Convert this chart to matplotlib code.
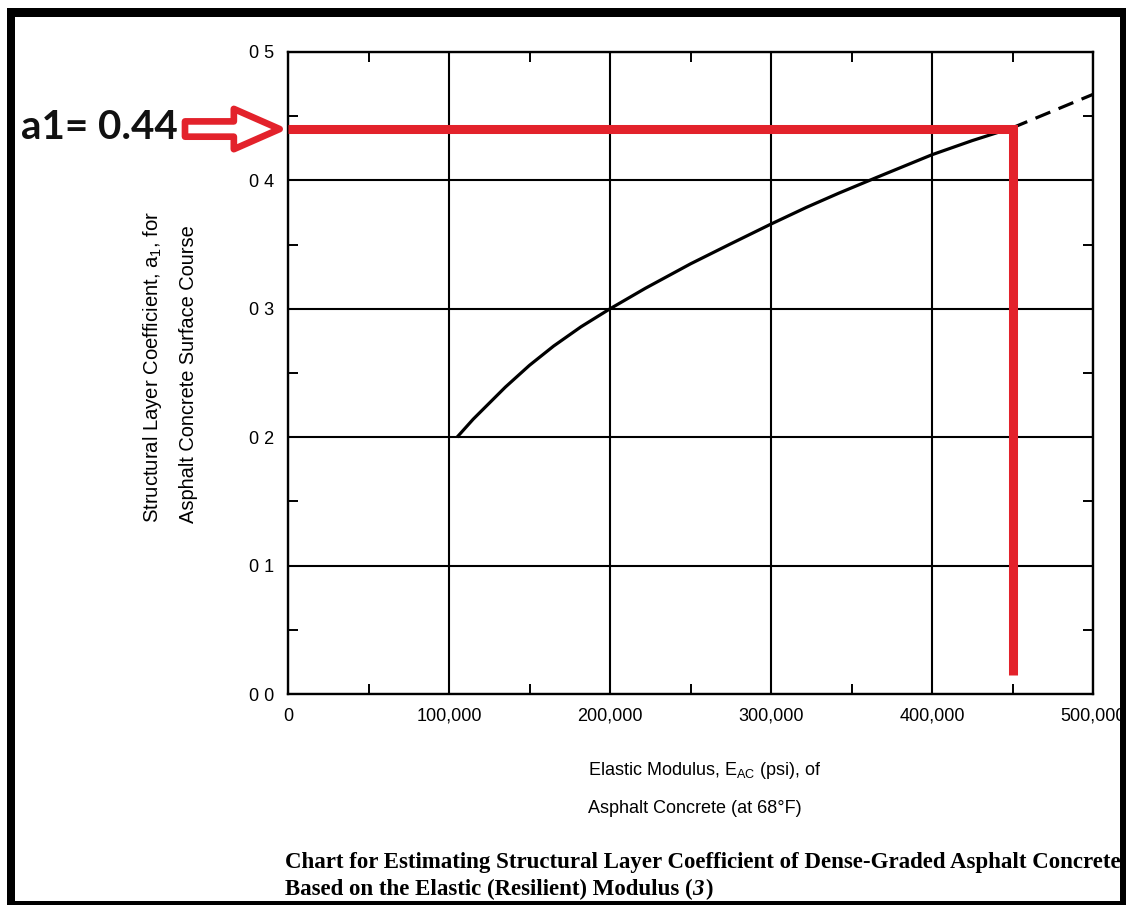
import matplotlib
matplotlib.use('Agg')
import matplotlib.pyplot as plt
from matplotlib.patches import Rectangle

plt.rcParams['font.family'] = ['Liberation Sans', 'DejaVu Sans']
plt.rcParams['mathtext.fontset'] = 'custom'
plt.rcParams['mathtext.rm'] = 'Liberation Sans'
plt.rcParams['mathtext.it'] = 'Liberation Sans:italic'

# Curva a1 - E_AC (tramo firme y extrapolación a trazos)
E_FIRME = [105000, 115000, 135000, 150000, 165000, 182000, 200000, 222000, 250000,
           274000, 300000, 322000, 342000, 365000, 400000, 425000, 450000]
A1_FIRME = [0.200, 0.214, 0.239, 0.256, 0.271, 0.286, 0.300, 0.316, 0.335,
            0.350, 0.366, 0.379, 0.390, 0.402, 0.420, 0.431, 0.441]
E_TRAZOS = [450000, 475000, 500000]
A1_TRAZOS = [0.441, 0.454, 0.467]

# Lectura del ábaco
E_LECTURA = 450000
A1_LECTURA = 0.44
A1_PIE = 0.015

X_TICKS = [0, 100000, 200000, 300000, 400000, 500000]
X_LABELS = ['0', '100,000', '200,000', '300,000', '400,000', '500,000']
Y_TICKS = [0.0, 0.1, 0.2, 0.3, 0.4, 0.5]
Y_LABELS = ['0 0', '0 1', '0 2', '0 3', '0 4', '0 5']
X_MENOR = [50000, 150000, 250000, 350000, 450000]
Y_MENOR = [0.05, 0.15, 0.25, 0.35, 0.45]

ROJO = '#e3222b'
W, H = 1126, 905


def fx(px):
    return px / W


def fy(py):
    return 1 - py / H


fig = plt.figure(figsize=(W / 100, H / 100), dpi=100)
fig.set_facecolor('w')
ax = fig.add_axes([fx(288), fy(694), fx(1093) - fx(288), fy(52) - fy(694)])

ax.set_xlim(0, 500000)
ax.set_ylim(0, 0.5)
ax.set_xticks(X_TICKS)
ax.set_xticklabels(X_LABELS, size=13)
ax.set_yticks(Y_TICKS)
ax.set_yticklabels(Y_LABELS, size=13)
ax.set_xticks(X_MENOR, minor=True)
ax.set_yticks(Y_MENOR, minor=True)
ax.tick_params(which='major', length=0, pad=10)
ax.tick_params(which='minor', direction='in', length=7, width=1.4,
               top=True, right=True, color='k')
ax.grid(which='major', color='k', lw=1.5)
ax.set_axisbelow(True)
for sp in ax.spines.values():
    sp.set_linewidth(1.7)

# Curva
ax.plot(E_FIRME, A1_FIRME, color='k', lw=2.3, solid_capstyle='butt',
        solid_joinstyle='round', zorder=3)
ax.plot(E_TRAZOS, A1_TRAZOS, color='k', lw=2.3, ls=(0, (5, 2.8)), zorder=3,
        clip_on=False)

# Lectura en rojo
ax.plot([0, E_LECTURA, E_LECTURA], [A1_LECTURA, A1_LECTURA, A1_PIE],
        color=ROJO, lw=6.5, solid_joinstyle='miter', solid_capstyle='butt',
        zorder=4, clip_on=False)

ax.annotate('', xy=(0, A1_LECTURA), xycoords='data',
            xytext=(-103, 0), textcoords='offset pixels',
            arrowprops=dict(arrowstyle='simple,head_length=1.65,head_width=1.45,tail_width=0.55',
                            mutation_scale=20, fc='white', ec=ROJO, lw=4.8,
                            shrinkA=0, shrinkB=6),
            annotation_clip=False)
ax.annotate('a1= %.2f' % A1_LECTURA, xy=(0, A1_LECTURA), xycoords='data',
            xytext=(-110, 2), textcoords='offset pixels',
            ha='right', va='center', family='Lato', weight='bold', size=29,
            color='#111111', annotation_clip=False)

# Rótulos de ejes
fig.text(fx(152), fy(523), 'Structural Layer Coefficient, a$_\\mathrm{1}$, for',
         rotation=90, ha='center', va='bottom', size=14.6)
fig.text(fx(188), fy(523), 'Asphalt Concrete Surface Course',
         rotation=90, ha='center', va='bottom', size=14.4)
fig.text(fx(588), fy(775), 'Elastic Modulus, E$_\\mathrm{AC}$ (psi), of',
         ha='left', va='baseline', size=13)
fig.text(fx(588), fy(813), 'Asphalt Concrete (at 68°F)',
         ha='left', va='baseline', size=13)

# Pie de figura
serif = ['Liberation Serif', 'DejaVu Serif']
fig.text(fx(285), fy(868),
         'Chart for Estimating Structural Layer Coefficient of Dense-Graded Asphalt Concrete',
         ha='left', va='baseline', size=16.5, weight='bold', family=serif)
t1 = fig.text(fx(285), fy(895), 'Based on the Elastic (Resilient) Modulus (',
              ha='left', va='baseline', size=16.5, weight='bold', family=serif)
rend = fig.canvas.get_renderer()
x1 = t1.get_window_extent(rend).x1
t2 = fig.text(x1 / W, fy(895), '3', ha='left', va='baseline', size=16.5,
              weight='bold', style='italic', family=serif)
x2 = t2.get_window_extent(rend).x1
fig.text(x2 / W + 0.001, fy(895), ')', ha='left', va='baseline', size=16.5,
         weight='bold', family=serif)

# Marco negro
for x0, y0, w, h in [(7, 8, 8, 897), (7, 8, 1119, 9), (1120, 8, 6, 897), (7, 901, 1119, 4)]:
    fig.add_artist(Rectangle((fx(x0), fy(y0 + h)), w / W, h / H,
                             transform=fig.transFigure, fc='k', ec='none', zorder=10))

fig.savefig('out.png', dpi=100, facecolor='w')
